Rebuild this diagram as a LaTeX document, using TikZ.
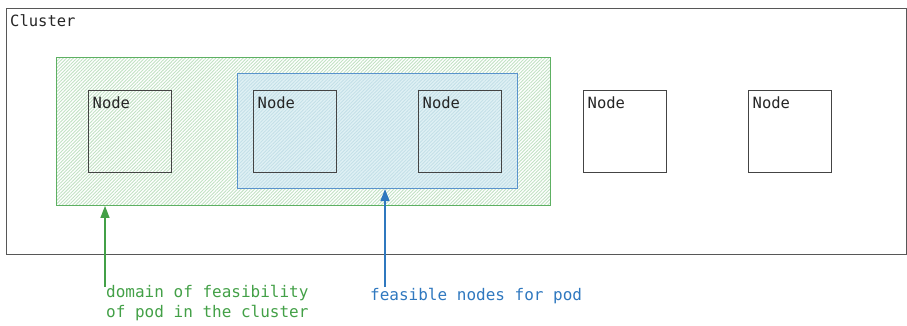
\documentclass[tikz,border=0pt]{standalone}
\usepackage{fontspec}
\setmonofont{DejaVu Sans Mono}
\usetikzlibrary{patterns.meta, arrows.meta, calc}

\definecolor{domgreen}{HTML}{5DB062}
\definecolor{arrowgreen}{HTML}{43A047}
\definecolor{hatchgreen}{HTML}{C2E2C4}
\definecolor{feasblue}{HTML}{2F78BF}
\definecolor{feasfill}{HTML}{E0F1F5}
\definecolor{hatchblue}{HTML}{C4E0E8}
\definecolor{boxgrey}{HTML}{444444}

\tikzset{
    nodebox/.style = {draw=boxgrey, line width=1pt, minimum width=83pt, minimum height=82pt,
        label={[anchor=north west, inner xsep=5pt, inner ysep=7.5pt, font=\ttfamily\fontsize{15.5}{18}\selectfont, text=black!85]north west:Node}},
    hatched/.style = {pattern={Lines[angle=45, distance=2.4pt, line width=0.9pt]}, pattern color=#1},
    note/.style = {font=\ttfamily\fontsize{16}{20}\selectfont, align=left, inner sep=0pt}
}

\begin{document}
\begin{tikzpicture}[x=1pt, y=-1pt]
    \useasboundingbox (0, 0) rectangle (907, 325);

    % cluster frame
    \node[draw=boxgrey!90, line width=1.2pt, minimum width=900pt, minimum height=246pt, anchor=north west,
        label={[anchor=north west, inner xsep=4pt, inner ysep=6.5pt, font=\ttfamily\fontsize{15.5}{18}\selectfont, text=black!85]north west:Cluster}]
        (cluster) at (6, 8) {};

    % domain of feasibility
    \node[draw=domgreen, line width=1.1pt, minimum width=494pt, minimum height=148pt, anchor=north west,
        preaction={fill=white}, hatched=hatchgreen]
        (domain) at (56, 57) {};

    % feasible nodes
    \node[draw=feasblue!80, line width=1.1pt, minimum width=280pt, minimum height=115pt, anchor=north west,
        preaction={fill=feasfill}, hatched=hatchblue]
        (feasible) at (237, 73) {};

    % worker nodes
    \node[nodebox] (nodeA) at (129.5, 131) {};
    \node[nodebox] (nodeB) at (294.5, 131) {};
    \node[nodebox] (nodeC) at (459.5, 131) {};
    \node[nodebox, fill=white] (nodeD) at (624.5, 131) {};
    \node[nodebox, fill=white] (nodeE) at (789.5, 131) {};

    % labels
    \node[note, text=arrowgreen, anchor=north west] (domlabel) at (106, 285)
        {domain of feasibility\\of pod in the cluster};
    \node[note, text=feasblue, anchor=north west] (feaslabel) at (370, 288)
        {feasible nodes for pod};

    \coordinate (domtail) at ($(domlabel.north west) + (-1, 2)$);
    \coordinate (feastail) at ($(feaslabel.north west) + (15, -1)$);

    \draw[arrowgreen, line width=1.3pt, -{Triangle[width=9pt, length=12pt]}]
        (domtail) -- (domtail |- domain.south);
    \draw[feasblue, line width=1.3pt, -{Triangle[width=9pt, length=12pt]}]
        (feastail) -- (feastail |- feasible.south);
\end{tikzpicture}
\end{document}
